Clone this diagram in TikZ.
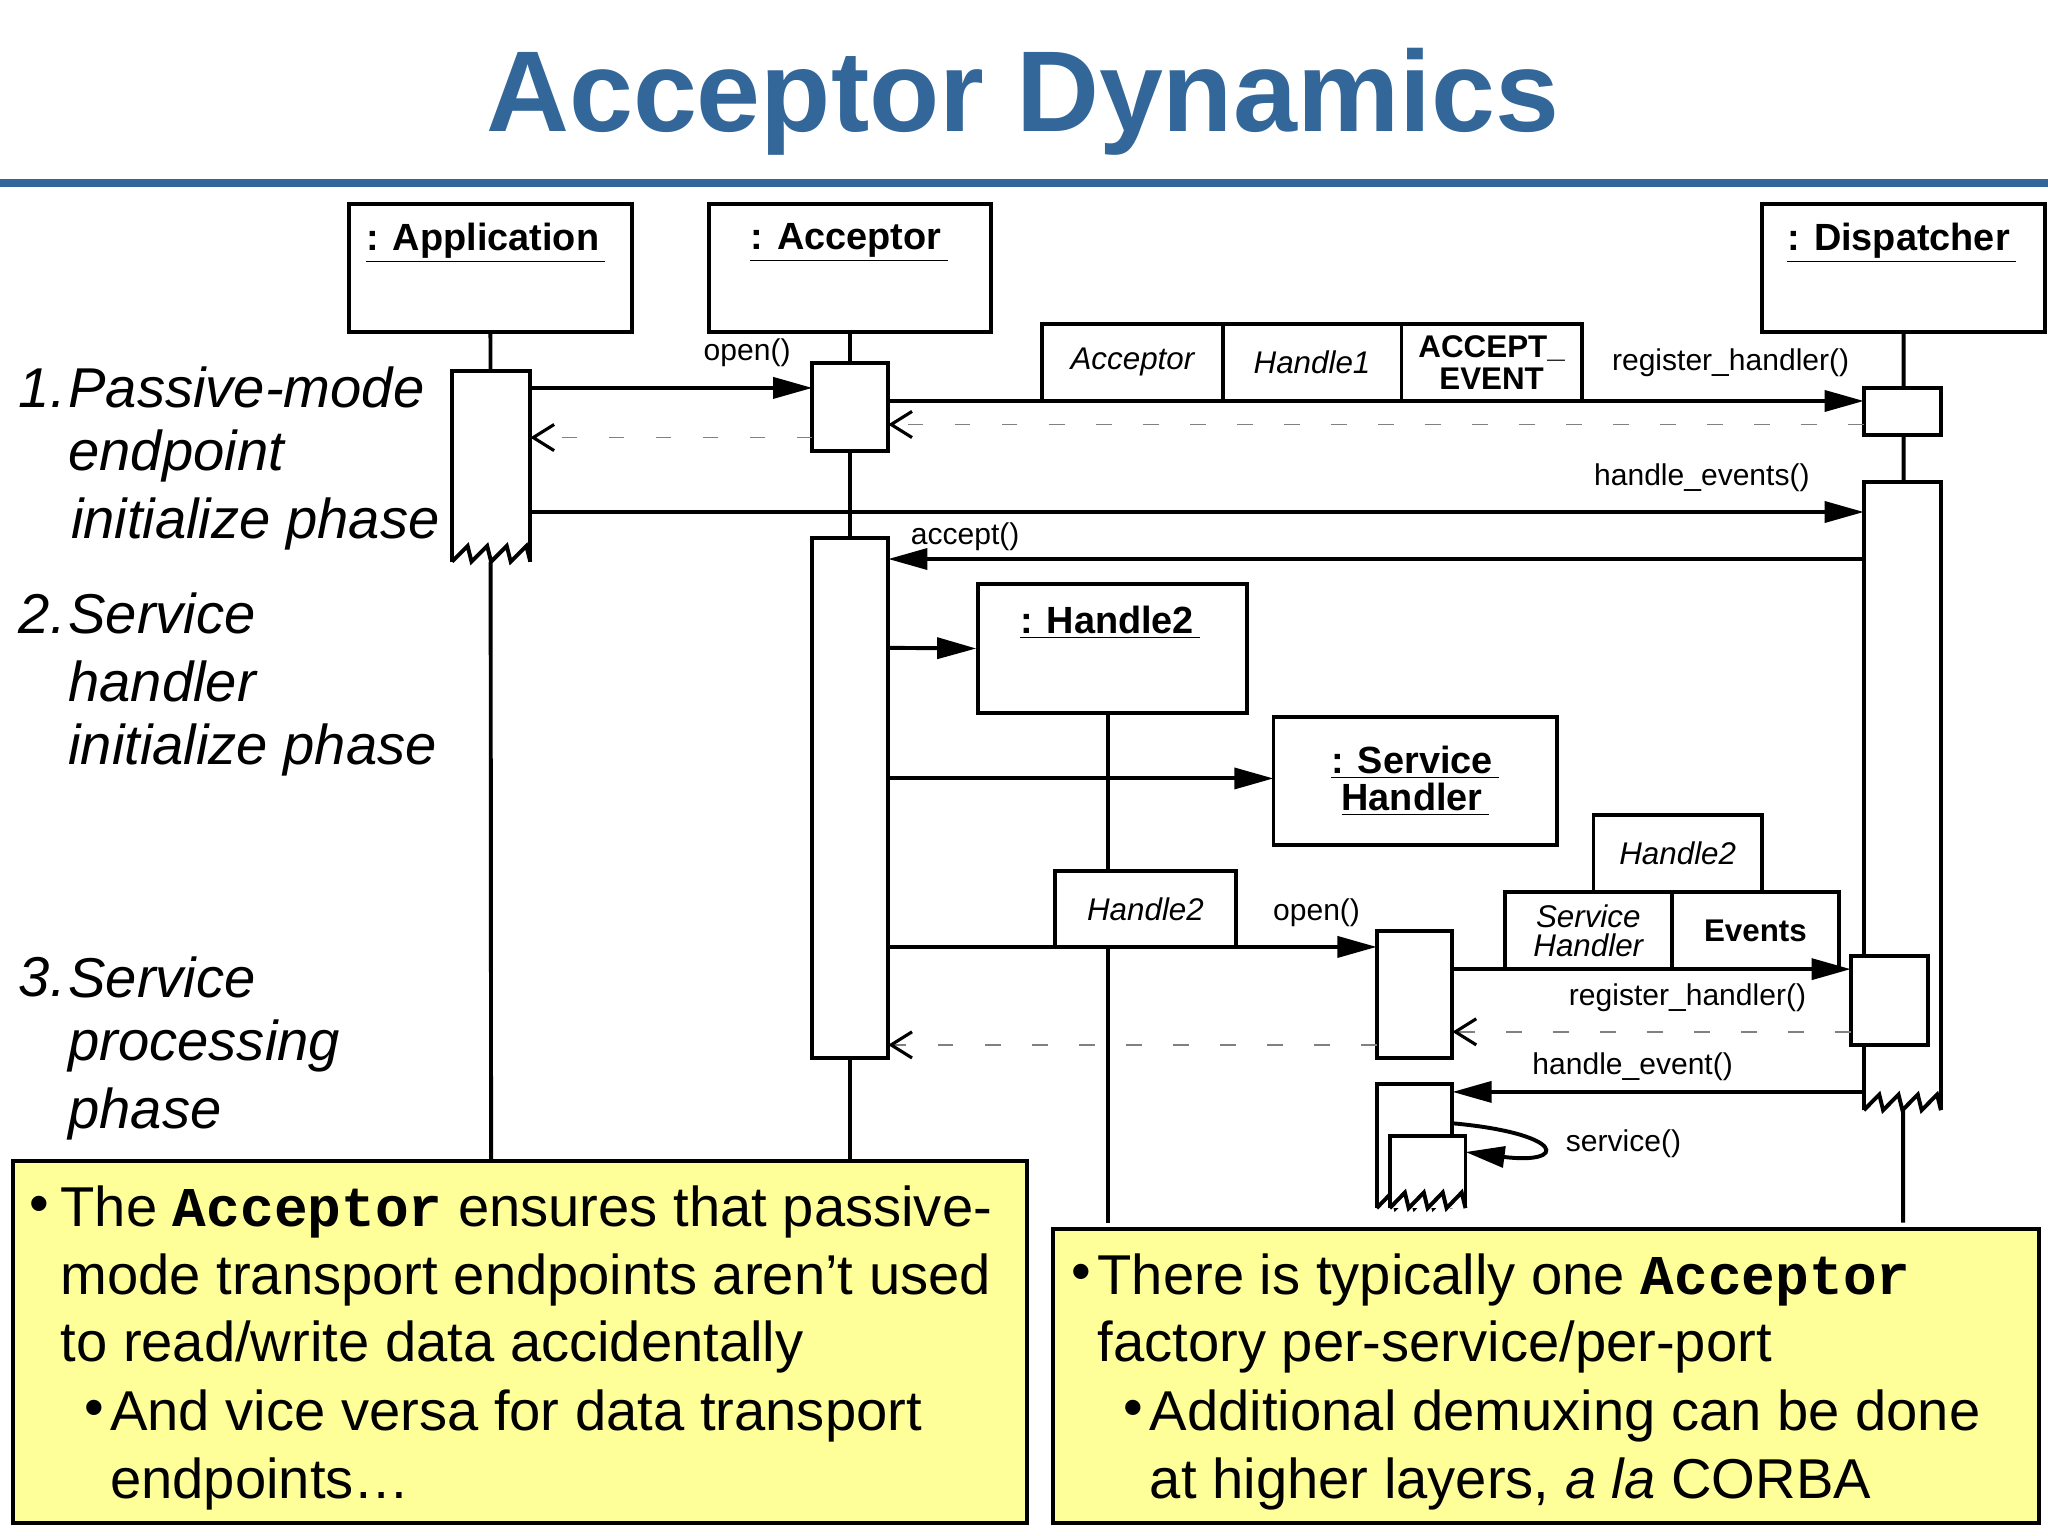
\documentclass[tikz,border=0pt]{standalone}
\usepackage{fontspec}
\setmainfont{Liberation Sans}
\newfontfamily\monof{Liberation Mono}
\usetikzlibrary{arrows.meta}
\definecolor{tblue}{HTML}{336699}
\definecolor{ybox}{HTML}{FFFF99}
\tikzset{
 lw/.style={line width=1.5pt},
 obj/.style={draw,lw,font=\fontsize{14}{16}\selectfont\bfseries},
 act/.style={draw,lw,fill=white},
 par/.style={draw,lw,fill=white,font=\fontsize{12}{12}\selectfont\itshape,inner sep=0pt},
 msg/.style={lw,-{Triangle[length=15pt,width=8pt]}},
 ret/.style={line width=0.6pt,gray,dash pattern=on 6pt off 12pt,-{Straight Barb[length=8pt,width=10pt,line width=1.2pt,black]}},
 lab/.style={font=\fontsize{11.5}{12}\selectfont,inner sep=1pt},
 phase/.style={anchor=west,font=\fontsize{21.5}{22}\selectfont\itshape,inner sep=0pt},
 bul/.style={anchor=west,font=\fontsize{21.5}{22}\selectfont,inner sep=0pt}
}
\newcommand{\jagbox}[4]{% x1 y1 x2 y2
 \fill[white] (#1,#2) rectangle (#3,#4);
 \draw[lw] (#1,#4) -- (#1,#2) -- (#3,#2) -- (#3,#4);
 \draw[lw] (#1,#4) -- ({#1+0.2*(#3-#1)},{#4-12}) -- ({#1+0.25*(#3-#1)},#4) -- ({#1+0.45*(#3-#1)},{#4-12}) -- ({#1+0.5*(#3-#1)},#4) -- ({#1+0.7*(#3-#1)},{#4-12}) -- ({#1+0.75*(#3-#1)},#4) -- ({#1+0.95*(#3-#1)},{#4-12}) -- (#3,#4);}
\begin{document}
\begin{tikzpicture}[x=0.5pt,y=-0.5pt]
\useasboundingbox (0,0) rectangle (1568,1176);
\node[text=tblue,font=\fontsize{44}{48}\selectfont\bfseries] (title) at (783,78) {Acceptor Dynamics};
\fill[tblue] (0,137) rectangle (1568,143);
% objects
\node[obj,minimum width=108.5pt,minimum height=49pt] (app) at (375.5,205) {};
\node[obj,minimum width=108pt,minimum height=49pt] (acc) at (651,205) {};
\node[obj,minimum width=108.5pt,minimum height=49pt] (dis) at (1457.5,205) {};
\node[font=\fontsize{14.5}{16}\selectfont\bfseries] at (372,186) {\underline{: Application\,}};
\node[font=\fontsize{14.5}{16}\selectfont\bfseries] at (650,186) {\underline{: Acceptor\,}};
\node[font=\fontsize{14.5}{16}\selectfont\bfseries] at (1456,186) {\underline{: Dispatcher\,}};
% lifelines
\draw[lw] (app.south) -- (376,890);
\draw[lw] (acc.south) -- (651,890);
\draw[lw] (dis.south) -- (1457,936);
% activations
\jagbox{346}{284}{406}{430}
\node[act,minimum width=29pt,minimum height=33.5pt,inner sep=0pt] (a1) at (651,311.5) {};
\node[act,minimum width=29pt,minimum height=199pt,inner sep=0pt] (a2) at (651,611) {};
\node[act,minimum width=29.5pt,minimum height=18pt,inner sep=0pt] (d1) at (1456.5,315) {};
\jagbox{1427}{369}{1486}{850}
% Handle2 & Service Handler
\node[obj,minimum width=103pt,minimum height=49.5pt] (h2) at (852,496.5) {};
\node[font=\fontsize{14.5}{16}\selectfont\bfseries] at (850,477) {\underline{: Handle2\,}};
\coordinate (h2b) at (848,546);
\draw[lw] (h2b) -- (848,936);
\node[obj,minimum width=108.5pt,minimum height=49pt,align=center,font=\fontsize{14.5}{16}\selectfont\bfseries] (sh) at (1083.5,598) {\underline{: Service\,}\\[-2pt]\underline{Handler\,}};
% messages
\coordinate (m1s) at (406,297); \coordinate (m1e) at (622,297);
\draw[msg] (m1s) -- (m1e);
\node[lab] at (572,270) {open()};
\coordinate (r1s) at (622,335); \coordinate (r1e) at (406,335);
\draw[ret] (r1s) -- (r1e);
\coordinate (m2s) at (680,307); \coordinate (m2e) at (1427,307);
\draw[msg] (m2s) -- (m2e);
\node[lab] at (1325,278) {register\_handler()};
\node[par,minimum width=69pt,minimum height=29.5pt] (p1) at (867,277.5) {Acceptor};
\node[par,minimum width=68.5pt,minimum height=29.5pt] (p2) at (1004.5,277.5) {Handle1};
\node[par,minimum width=69pt,minimum height=29.5pt,font=\fontsize{12}{12}\selectfont\bfseries,align=center] (p3) at (1142,277.5) {ACCEPT\_\\EVENT};
\coordinate (r2s) at (1427,325); \coordinate (r2e) at (680,325);
\draw[ret] (r2s) -- (r2e);
\coordinate (m3s) at (406,392); \coordinate (m3e) at (1427,392);
\draw[msg] (m3s) -- (m3e);
\node[lab] at (1303,366) {handle\_events()};
\coordinate (m4s) at (1427,428); \coordinate (m4e) at (680,428);
\draw[msg] (m4s) -- (m4e);
\node[lab] at (739,411) {accept()};
\draw[msg] (680,496) -- (h2.west);
\coordinate (shw) at (975,596);
\draw[msg] (680,596) -- (shw);
\node[par,minimum width=69pt,minimum height=29pt] (p4) at (877,696) {Handle2};
\node[act,minimum width=29pt,minimum height=48.5pt,inner sep=0pt] (s1) at (1083,761.5) {};
\coordinate (m5s) at (680,725);
\draw[msg] (m5s) -- (1054,725);
\node[lab] at (1008,699) {open()};
\node[par,minimum width=64.5pt,minimum height=29.5pt] (p5) at (1284.5,653.5) {Handle2};
\node[par,minimum width=64pt,minimum height=29.5pt,align=center,font=\fontsize{12}{11}\selectfont\itshape] (p6) at (1216,712.5) {Service\\Handler};
\node[par,minimum width=64pt,minimum height=29.5pt,font=\fontsize{12}{12}\selectfont\bfseries] (p7) at (1344,712.5) {Events};
\node[act,minimum width=29.5pt,minimum height=34pt,inner sep=0pt] (d3) at (1446.5,766) {};
\draw[msg] (1112,742) -- (1417,742);
\node[lab] at (1292,764) {register\_handler()};
\draw[ret] (1417,790) -- (1112,790);
\draw[ret] (1054,800) -- (680,800);
\draw[msg] (1427,836) -- (1112,836);
\node[lab] at (1250,817) {handle\_event()};
\jagbox{1054}{830}{1112}{925}
\jagbox{1064}{870}{1122}{925}
\draw[lw,-{Triangle[length=15pt,width=8pt]}] (1112,860) .. controls (1200,868) and (1200,892) .. (1122,882);
\node[lab] at (1243,876) {service()};
% phases
\foreach \t/\y in {1./297,2./470,3./748} \node[phase] at (14,\y) {\t};
\node[phase] at (52,297) {Passive-mode};
\node[phase] at (52,349) {endpoint};
\node[phase,fill=white,inner xsep=2pt] at (50,401) {initialize phase};
\node[phase] at (52,470) {Service};
\node[phase] at (52,522) {handler};
\node[phase] at (52,574) {initialize phase};
\node[phase] at (52,748) {Service};
\node[phase] at (52,801) {processing};
\node[phase] at (52,853) {phase};
% yellow boxes
\draw[lw,fill=ybox] (10,889) rectangle (786,1166);
\draw[lw,fill=ybox] (806,941) rectangle (1561,1166);
\node[bul] at (22,926) {\textbullet};
\node[bul] at (46,928) {The {\monof\bfseries Acceptor} ensures that passive-};
\node[bul] at (46,980) {mode transport endpoints aren’t used};
\node[bul] at (46,1031) {to read/write data accidentally};
\node[bul] at (64,1082) {\textbullet};
\node[bul] at (84,1084) {And vice versa for data transport};
\node[bul] at (84,1136) {endpoints…};
\node[bul] at (820,978) {\textbullet};
\node[bul] at (840,980) {There is typically one {\monof\bfseries Acceptor}};
\node[bul] at (840,1031) {factory per-service/per-port};
\node[bul] at (860,1082) {\textbullet};
\node[bul] at (880,1084) {Additional demuxing can be done};
\node[bul] at (880,1136) {at higher layers, \textit{a la} CORBA};
\end{tikzpicture}
\end{document}
